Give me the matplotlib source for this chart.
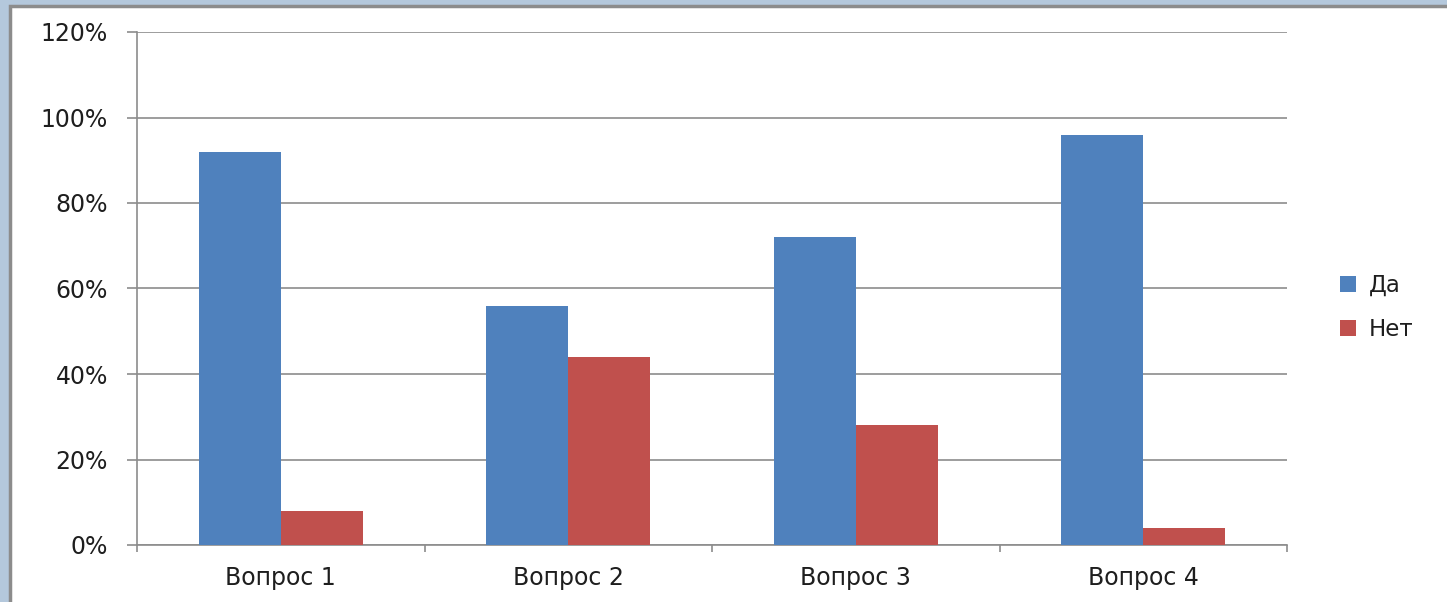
import matplotlib
matplotlib.use("Agg")
import matplotlib.pyplot as plt
from matplotlib.patches import Rectangle
from matplotlib.ticker import FixedLocator, PercentFormatter
import numpy as np

categories = ["Вопрос 1", "Вопрос 2", "Вопрос 3", "Вопрос 4"]
series_names = ["Да", "Нет"]
yes_values = [0.92, 0.56, 0.72, 0.96]
no_values = [0.08, 0.44, 0.28, 0.04]
colors = ["#4F81BD", "#C0504D"]

W, H = 1447, 602
fig = plt.figure(figsize=(W / 100, H / 100), dpi=100)
fig.patch.set_facecolor("#B4C8DC")

# white slide panel with a grey frame (left and top edges visible)
panel = Rectangle((9.5 / W, -0.05), 1.1, 1.05 - 6 / H,
                  transform=fig.transFigure, facecolor="white",
                  edgecolor="#8C8C8C", linewidth=2.5, zorder=-10)
fig.patches.append(panel)

ax = fig.add_axes([137 / W, 1 - 545 / H, (1287 - 137) / W, (545 - 32) / H])
ax.set_zorder(5)
ax.set_facecolor("none")

n = len(categories)
x = np.arange(n)
bw = 1 / 3.5
ax.bar(x - bw / 2, yes_values, width=bw, color=colors[0], label=series_names[0], zorder=3)
ax.bar(x + bw / 2, no_values, width=bw, color=colors[1], label=series_names[1], zorder=3)

ax.set_xlim(-0.5, n - 0.5)
ax.set_ylim(0, 1.2)
ax.yaxis.set_major_locator(FixedLocator(np.arange(0, 1.21, 0.2)))
ax.yaxis.set_major_formatter(PercentFormatter(1.0, decimals=0))
ax.grid(axis="y", color="#8C8C8C", linewidth=1.2, zorder=0)

ax.set_xticks(np.arange(-0.5, n, 1.0))
ax.set_xticklabels([])
ax.set_xticks(x, minor=True)
ax.set_xticklabels(categories, minor=True)
ax.tick_params(axis="x", which="major", length=5, width=1.2, color="#8C8C8C", direction="out")
ax.tick_params(axis="x", which="minor", length=0, pad=15, labelsize=17, labelcolor="#1E1E1E")
ax.tick_params(axis="y", length=7, width=1.2, color="#8C8C8C", direction="out",
               pad=14, labelsize=17, labelcolor="#1E1E1E")

for side in ["top", "right"]:
    ax.spines[side].set_visible(False)
for side in ["left", "bottom"]:
    ax.spines[side].set_color("#8C8C8C")
    ax.spines[side].set_linewidth(1.2)

ax.legend(loc="center left", bbox_to_anchor=(1.028, 0.5 - (307 - 288) / 513),
          frameon=False, fontsize=16.5, handlelength=0.7, handleheight=0.7,
          handletextpad=0.55, labelspacing=0.9, labelcolor="#1E1E1E")

fig.savefig("out.png", dpi=100, facecolor=fig.get_facecolor())
